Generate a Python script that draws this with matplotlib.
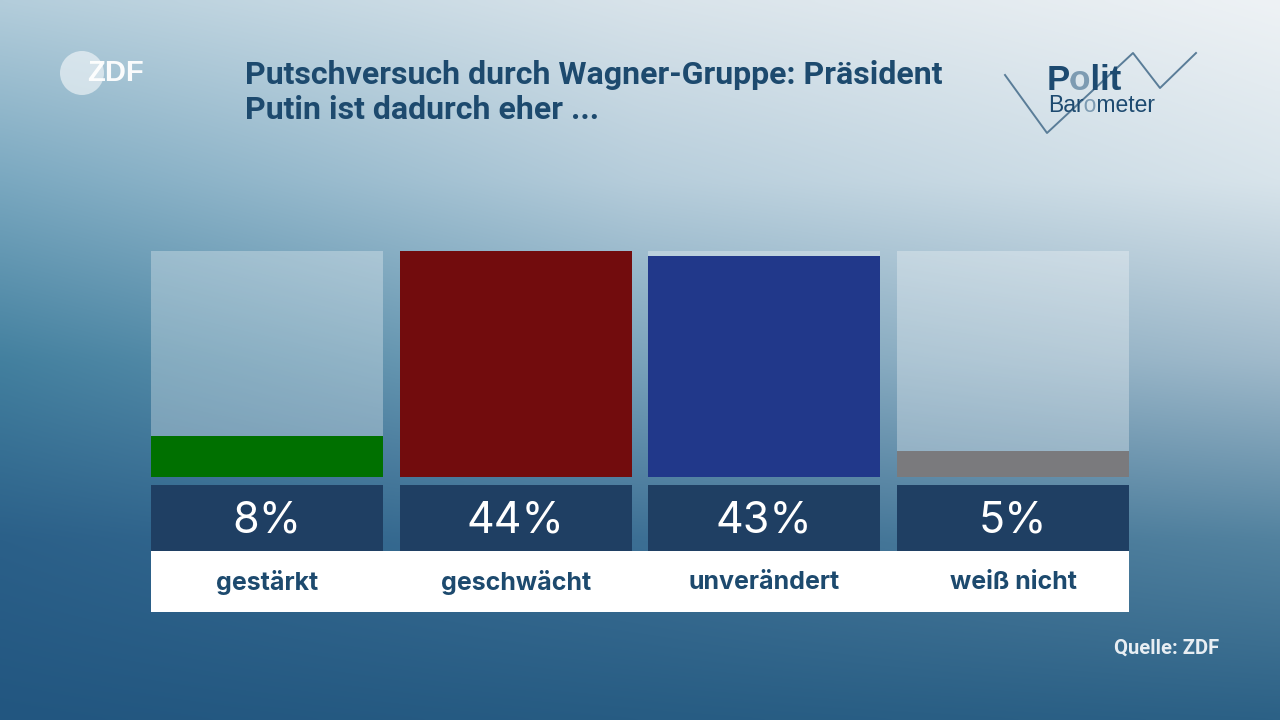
import numpy as np
import matplotlib
matplotlib.use("Agg")
import matplotlib.pyplot as plt
from matplotlib.patches import Circle
from matplotlib.transforms import Bbox, TransformedBbox

# ---- data ----
categories = ["gestärkt", "geschwächt", "unverändert", "weiß nicht"]
values = [8, 44, 43, 5]
value_labels = ["8%", "44%", "43%", "5%"]
bar_colors = ["#007000", "#720c0d", "#21388a", "#7a7a7d"]
title_lines = ["Putschversuch durch Wagner-Gruppe: Präsident", "Putin ist dadurch eher ..."]
source = "Quelle: ZDF"

W, H = 1280, 720
fig = plt.figure(figsize=(12.8, 7.2), dpi=100)

# ---- background gradient ----
bg = fig.add_axes([0, 0, 1, 1])
bg.set_axis_off()
def hx(c):
    c = c.lstrip("#")
    return np.array([int(c[i:i+2], 16) for i in (0, 2, 4)]) / 255.0
ctrl = np.array([
    [hx("#b3cddb"), hx("#d8e3ea"), hx("#eef2f5")],
    [hx("#7aa8c0"), hx("#b6cddb"), hx("#d8e4eb")],
    [hx("#43809f"), hx("#7aa3bb"), hx("#a0bacb")],
    [hx("#2b6089"), hx("#3c6f94"), hx("#52829f")],
    [hx("#225680"), hx("#275c83"), hx("#2c6186")],
])
nr, nc = ctrl.shape[0] - 1, ctrl.shape[1] - 1
ny, nx = 180, 320
yy = np.linspace(0, nr, ny)[:, None]
xx = np.linspace(0, nc, nx)[None, :]
yi = np.clip(np.floor(yy).astype(int), 0, nr - 1)
xi = np.clip(np.floor(xx).astype(int), 0, nc - 1)
fy = yy - yi
fx = xx - xi
img = np.zeros((ny, nx, 3))
for c in range(3):
    g = ctrl[:, :, c]
    v00 = g[yi, xi]; v01 = g[yi, xi + 1]; v10 = g[yi + 1, xi]; v11 = g[yi + 1, xi + 1]
    img[:, :, c] = (v00 * (1 - fy) * (1 - fx) + v01 * (1 - fy) * fx
                    + v10 * fy * (1 - fx) + v11 * fy * fx)
bg.imshow(np.clip(img, 0, 1), extent=[0, W, H, 0], aspect="auto", interpolation="bicubic")
bg.set_xlim(0, W); bg.set_ylim(H, 0)

fig.canvas.draw()
renderer = fig.canvas.get_renderer()

def width_of(txt, **kw):
    t = bg.text(0, 0, txt, **kw)
    w = t.get_window_extent(renderer=renderer).width
    t.remove()
    return w

def two_tone(x0, y, word, idx, dark, light, **kw):
    """Word in dark colour; the character at idx re-drawn in light colour (clipped)."""
    wa = width_of(word[:idx], **kw)
    wb = width_of(word[:idx + 1], **kw)
    ox0, ox1 = x0 + wa + 0.5, x0 + wb + 0.5
    # dark text, clipped to left and right parts
    for (a, b), col in [((0, ox0), dark), ((ox0, ox1), light), ((ox1, W), dark)]:
        t = bg.text(x0, y, word, color=col, va="baseline", ha="left", **kw)
        box = TransformedBbox(Bbox([[a, y - 60], [b, y + 20]]), bg.transData)
        t.set_clip_box(box)
        t.set_clip_on(True)

# ---- logos ----
bg.add_patch(Circle((82, 73), 22, color="white", alpha=0.55, lw=0))
bg.text(115, 73, "ZDF", color="white", fontsize=21, fontweight="bold",
        ha="center", va="center", family="Liberation Sans", alpha=0.95)

zx = [1005, 1047, 1133, 1160, 1196]
zy = [75, 133, 53, 88, 53]
bg.plot(zx, zy, color="#5a7d98", lw=1.4)
dark, light = "#1d4a70", "#7d9bb2"
two_tone(1047, 90, "Polit", 1, dark, light, fontsize=25, fontweight="bold", family="Liberation Sans")
two_tone(1048, 112, "Barometer", 3, dark, light, fontsize=16.5, family="Liberation Sans")

# ---- title ----
for i, line in enumerate(title_lines):
    bg.text(245, 75 + 35 * i, line, color="#1d4a6e", fontsize=23, fontweight="bold",
            ha="left", va="center", family="Roboto")

# ---- source ----
bg.text(1219, 648, source, color="#e8eef3", fontsize=14.5, fontweight="bold",
        ha="right", va="center", family="Roboto")

# ---- bars ----
left, right = 151, 1129
pitch = 249
bw = 232 / pitch
x = np.arange(len(categories))
xlim = (-bw / 2, len(categories) - 1 + bw / 2)

def fax(top, bottom):
    return fig.add_axes([left / W, (H - bottom) / H, (right - left) / W, (bottom - top) / H])

ax = fax(251, 477)
ax.set_axis_off()
ax.bar(x, [max(values)] * len(values), width=bw, color="white", alpha=0.3, lw=0)
ax.bar(x, values, width=bw, color=bar_colors, lw=0)
ax.set_xlim(*xlim); ax.set_ylim(0, max(values))

vax = fax(485, 551)
vax.set_axis_off()
vax.bar(x, [1] * len(x), width=bw, color="#1f3f63", lw=0)
for xi_, lab in zip(x, value_labels):
    vax.text(xi_, 0.45, lab, color="white", fontsize=31, ha="center", va="center", family="Inter")
vax.set_xlim(*xlim); vax.set_ylim(0, 1)

lax = fax(551, 612)
lax.set_xticks([]); lax.set_yticks([])
for s in lax.spines.values():
    s.set_visible(False)
lax.set_facecolor("white")
for xi_, lab in zip(x, categories):
    lax.text(xi_, 0.48, lab, color="#1d4a6e", fontsize=18, fontweight="bold",
             ha="center", va="center", family="Inter")
lax.set_xlim(*xlim); lax.set_ylim(0, 1)

fig.savefig("out.png", dpi=100)
